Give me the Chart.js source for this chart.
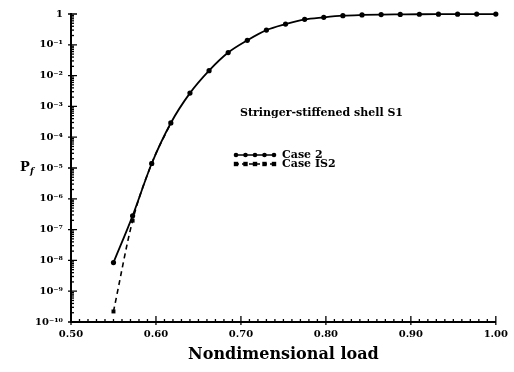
<!DOCTYPE html>
<html>
<head>
<meta charset="utf-8">
<script src="https://cdn.jsdelivr.net/npm/chart.js@4"></script>
<style>
  html, body { margin: 0; padding: 0; background: #fff; }
  #wrap { width: 514px; height: 372px; position: relative; }
</style>
</head>
<body>
<div id="wrap"><canvas id="pfChart"></canvas></div>
<script>
// Failure probability vs nondimensional load, stringer-stiffened shell S1

const loads = [0.55, 0.5725, 0.595, 0.6175, 0.64, 0.6625, 0.685, 0.7075, 0.73, 0.7525,
               0.775, 0.7975, 0.82, 0.8425, 0.865, 0.8875, 0.91, 0.9325, 0.955, 0.9775, 1.00];
const case2Pf = [8.5e-9, 2.8e-7, 1.4e-5, 2.9e-4, 2.7e-3, 1.45e-2, 5.6e-2, 0.14, 0.30, 0.47,
                 0.67, 0.78, 0.88, 0.93, 0.96, 0.97, 0.98, 0.985, 0.99, 0.995, 0.998];
const is2Loads = [0.55, 0.5725, 0.595, 0.6175];
const is2Pf = [2.2e-10, 1.95e-7, 1.4e-5, 2.9e-4];

const yMajorTicks = [1e-10, 1e-9, 1e-8, 1e-7, 1e-6, 1e-5, 1e-4, 1e-3, 1e-2, 1e-1, 1];
const yTickLabels = ['10\u207B\u00B9\u2070', '10\u207B\u2079', '10\u207B\u2078', '10\u207B\u2077',
                     '10\u207B\u2076', '10\u207B\u2075', '10\u207B\u2074', '10\u207B\u00B3',
                     '10\u207B\u00B2', '10\u207B\u00B9', '1'];
const xLabelTicks = [0.5, 0.6, 0.7, 0.8, 0.9, 1.0];

const seriesNames = ['Case 2', 'Case IS2'];
const plotTitle = 'Stringer-stiffened shell S1';

const FONT = '"DejaVu Serif", "Liberation Serif", serif';
const INK = '#000';

function zip(xs, ys) {
    return xs.map(function (x, i) { return { x: x, y: ys[i] }; });
}

function isMajorY(v) {
    const l = Math.log10(v);
    return Math.abs(l - Math.round(l)) < 1e-6;
}

// inward tick marks + free text (P_f label, title, legend)
const decorPlugin = {
    id: 'decor',
    afterDatasetsDraw: function (chart) {
        const ctx = chart.ctx;
        const xs = chart.scales.x, ys = chart.scales.y;
        const area = chart.chartArea;
        ctx.save();
        ctx.strokeStyle = INK;
        ctx.lineWidth = 1.3;

        ys.ticks.forEach(function (t) {
            const py = ys.getPixelForValue(t.value);
            const major = isMajorY(t.value);
            ctx.beginPath();
            ctx.moveTo(area.left, py);
            ctx.lineTo(area.left + (major ? 6 : 3), py);
            if (major) { ctx.moveTo(area.left - 3, py); ctx.lineTo(area.left, py); }
            ctx.stroke();
        });
        xs.ticks.forEach(function (t) {
            const px = xs.getPixelForValue(t.value);
            const major = Math.round(t.value * 100) % 10 === 0;
            ctx.beginPath();
            ctx.moveTo(px, area.bottom);
            ctx.lineTo(px, area.bottom - (major ? 6 : 3));
            if (major) { ctx.moveTo(px, area.bottom); ctx.lineTo(px, area.bottom + 3); }
            ctx.stroke();
        });

        ctx.fillStyle = INK;
        ctx.textBaseline = 'middle';
        ctx.textAlign = 'left';

        // y axis label P_f
        ctx.font = 'bold 13px ' + FONT;
        ctx.fillText('P', 20, 168);
        ctx.font = 'italic bold 9px ' + FONT;
        ctx.fillText('f', 30, 172);

        // annotation title
        ctx.font = 'bold 11px ' + FONT;
        ctx.fillText(plotTitle, 240, 113);

        // legend
        const rows = [
            { y: 155, style: 'circle', dash: [] },
            { y: 164, style: 'rect', dash: [4, 3] },
        ];
        rows.forEach(function (r, i) {
            ctx.setLineDash(r.dash);
            ctx.lineWidth = 1.5;
            ctx.beginPath();
            ctx.moveTo(235, r.y);
            ctx.lineTo(275, r.y);
            ctx.stroke();
            ctx.setLineDash([]);
            for (let k = 0; k < 5; k++) {
                const mx = 236 + k * 9.5;
                ctx.beginPath();
                if (r.style === 'circle') ctx.arc(mx, r.y, 2.3, 0, Math.PI * 2);
                else ctx.rect(mx - 2.2, r.y - 2.2, 4.4, 4.4);
                ctx.fill();
            }
            ctx.font = 'bold 11px ' + FONT;
            ctx.fillText(seriesNames[i], 282, r.y);
        });
        ctx.restore();
    },
};

const canvas = document.getElementById('pfChart');
const pfChart = new Chart(canvas.getContext('2d'), {
    type: 'line',
    data: {
        datasets: [
            {
                label: seriesNames[0],
                data: zip(loads, case2Pf),
                borderColor: INK,
                backgroundColor: INK,
                borderWidth: 1.8,
                pointStyle: 'circle',
                pointRadius: 2.6,
                pointBorderWidth: 0,
                cubicInterpolationMode: 'monotone',
                clip: false,
            },
            {
                label: seriesNames[1],
                data: zip(is2Loads, is2Pf),
                borderColor: INK,
                backgroundColor: INK,
                borderWidth: 1.6,
                borderDash: [5, 4],
                pointStyle: 'rect',
                pointRadius: 2.8,
                pointBorderWidth: 0,
                cubicInterpolationMode: 'monotone',
                clip: false,
            },
        ],
    },
    options: {
        responsive: true,
        maintainAspectRatio: false,
        animation: false,
        layout: { padding: { top: 12, right: 17, left: 0, bottom: 0 } },
        plugins: {
            legend: { display: false },
            tooltip: { enabled: false },
        },
        scales: {
            x: {
                type: 'linear',
                min: 0.5,
                max: 1.0,
                grid: { display: false, drawTicks: false },
                border: { display: true, color: INK, width: 2 },
                ticks: {
                    stepSize: 0.01,
                    autoSkip: false,
                    maxRotation: 0,
                    padding: 6,
                    color: INK,
                    font: { family: FONT, size: 10, weight: 'bold' },
                    callback: function (value) {
                        const hit = xLabelTicks.find(function (t) { return Math.abs(t - value) < 1e-6; });
                        return hit !== undefined ? hit.toFixed(2) : '';
                    },
                },
                title: {
                    display: true,
                    text: 'Nondimensional load',
                    color: INK,
                    padding: { top: 0, bottom: 8 },
                    font: { family: FONT, size: 16, weight: 'bold' },
                },
                afterFit: function (scale) { scale.height = 50; },
            },
            y: {
                type: 'logarithmic',
                min: 1e-10,
                max: 1,
                grid: { display: false, drawTicks: false },
                border: { display: true, color: INK, width: 2 },
                afterBuildTicks: function (scale) {
                    const ticks = [];
                    yMajorTicks.forEach(function (m, i) {
                        ticks.push({ value: m });
                        if (i < yMajorTicks.length - 1) {
                            for (let k = 2; k <= 9; k++) ticks.push({ value: m * k });
                        }
                    });
                    scale.ticks = ticks;
                },
                ticks: {
                    autoSkip: false,
                    padding: 8,
                    color: INK,
                    font: { family: FONT, size: 10, weight: 'bold' },
                    callback: function (value) {
                        const idx = yMajorTicks.findIndex(function (t) { return Math.abs(Math.log10(t) - Math.log10(value)) < 1e-6; });
                        return idx >= 0 ? yTickLabels[idx] : '';
                    },
                },
                afterFit: function (scale) { scale.width = 71; },
            },
        },
    },
    plugins: [decorPlugin],
});
</script>
</body>
</html>
